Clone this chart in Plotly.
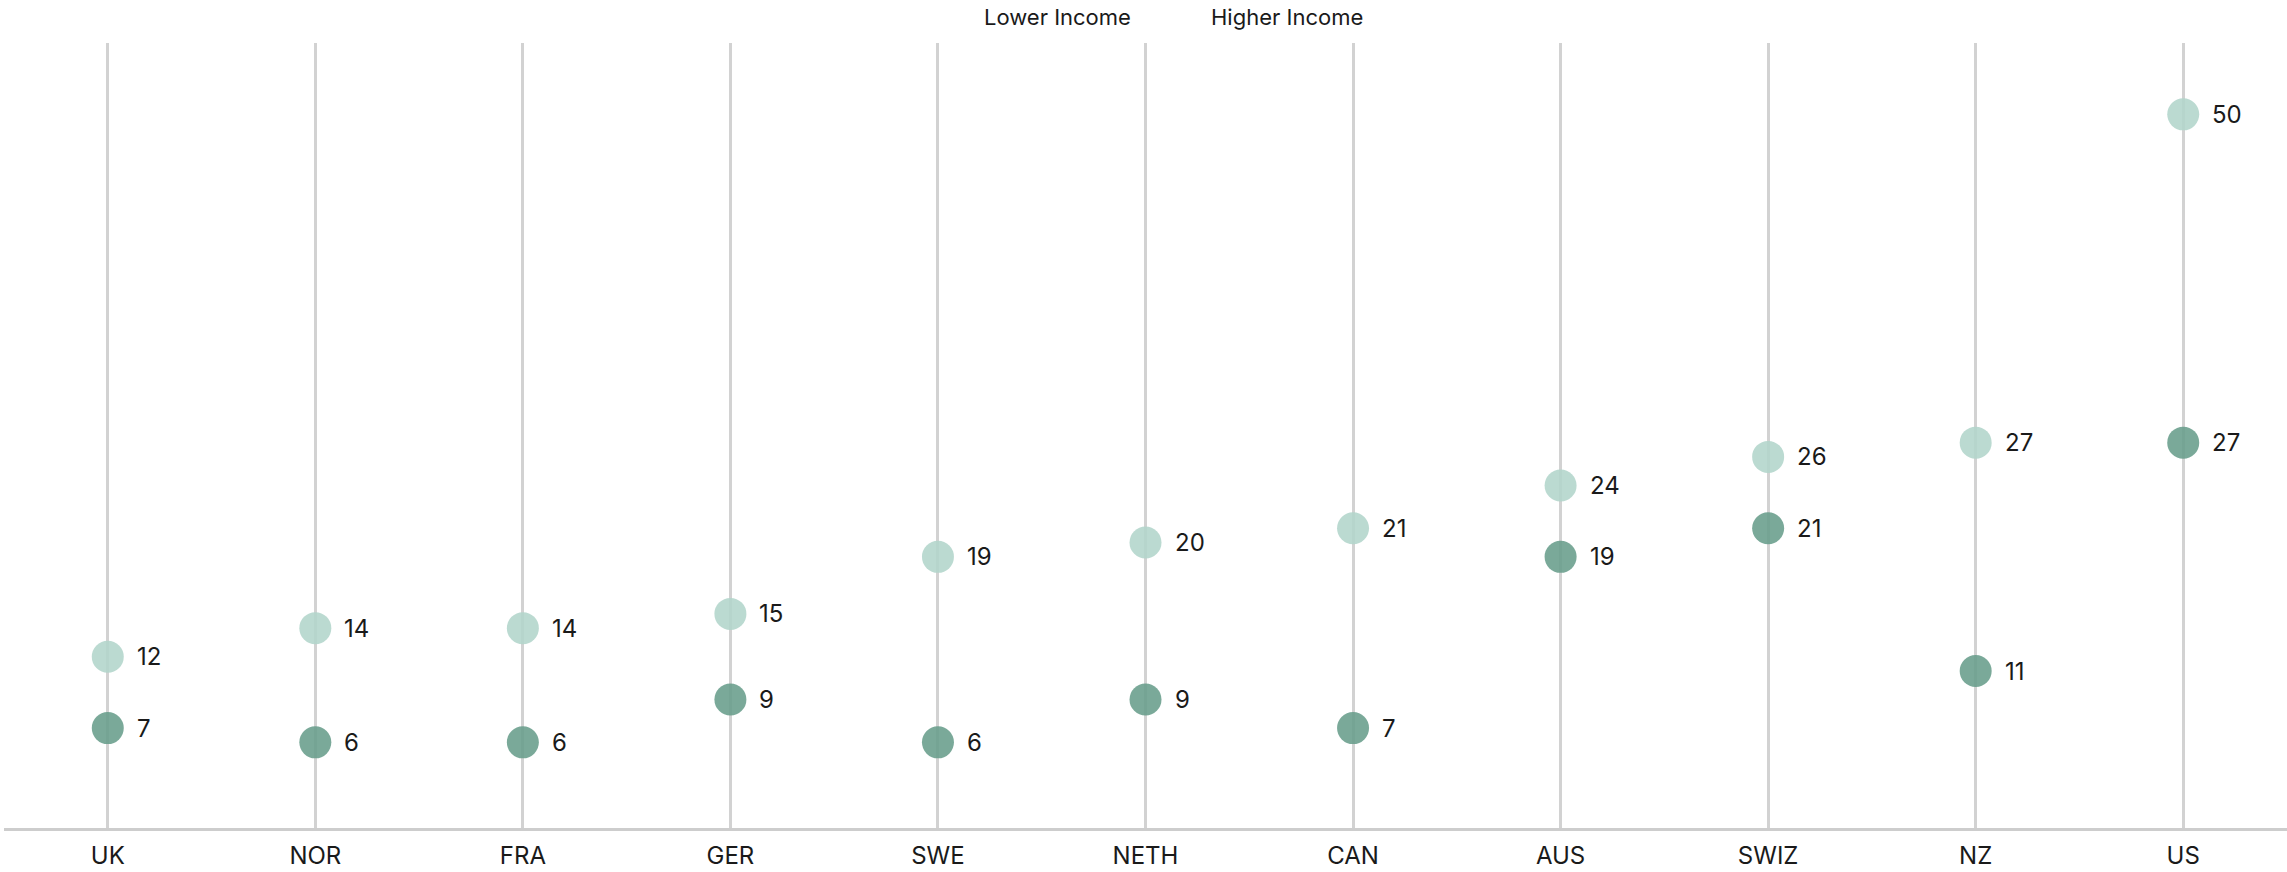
import plotly.graph_objects as go

countries = ["UK", "NOR", "FRA", "GER", "SWE", "NETH", "CAN", "AUS", "SWIZ", "NZ", "US"]
lower_income = [12, 14, 14, 15, 19, 20, 21, 24, 26, 27, 50]
higher_income = [7, 6, 6, 9, 6, 9, 7, 19, 21, 11, 27]

LIGHT = "rgb(178,213,203)"
DARK = "rgb(104,157,139)"
FONT = "Inter, Roboto, sans-serif"
TEXT = "#1a1a1a"

fig = go.Figure()

for name, vals, color in [("Lower Income", lower_income, LIGHT),
                          ("Higher Income", higher_income, DARK)]:
    fig.add_trace(go.Scatter(
        x=countries, y=vals, name=name, mode="markers",
        marker=dict(size=32, color=color, opacity=0.88, line=dict(width=0)),
        cliponaxis=False, showlegend=False,
    ))
    # value labels to the right of each dot
    for c, v in zip(countries, vals):
        fig.add_annotation(x=c, y=v, text=str(v), showarrow=False,
                           xanchor="left", xshift=27,
                           font=dict(size=24, color=TEXT, family=FONT))

# Series key at the top centre
for label, xpix in [("Lower Income", 1055), ("Higher Income", 1285)]:
    fig.add_annotation(x=xpix / 2287, y=1, xref="paper", yref="paper",
                       yanchor="bottom", yshift=11, text=label, showarrow=False,
                       font=dict(size=22, color=TEXT, family=FONT))

fig.update_layout(
    width=2287, height=872,
    margin=dict(l=4, r=0, t=43, b=44),
    paper_bgcolor="white", plot_bgcolor="white",
    font=dict(family=FONT, color=TEXT),
    xaxis=dict(type="category", range=[-0.5, 10.5], showgrid=True,
               gridcolor="rgb(210,210,210)", gridwidth=3,
               showline=True, linecolor="rgb(205,205,205)", linewidth=3,
               ticks="", ticklabelstandoff=4,
               tickfont=dict(size=24, color=TEXT, family=FONT),
               zeroline=False, fixedrange=True),
    yaxis=dict(range=[0, 55], visible=False, showgrid=False, zeroline=False),
)

fig.write_html("out.html")
